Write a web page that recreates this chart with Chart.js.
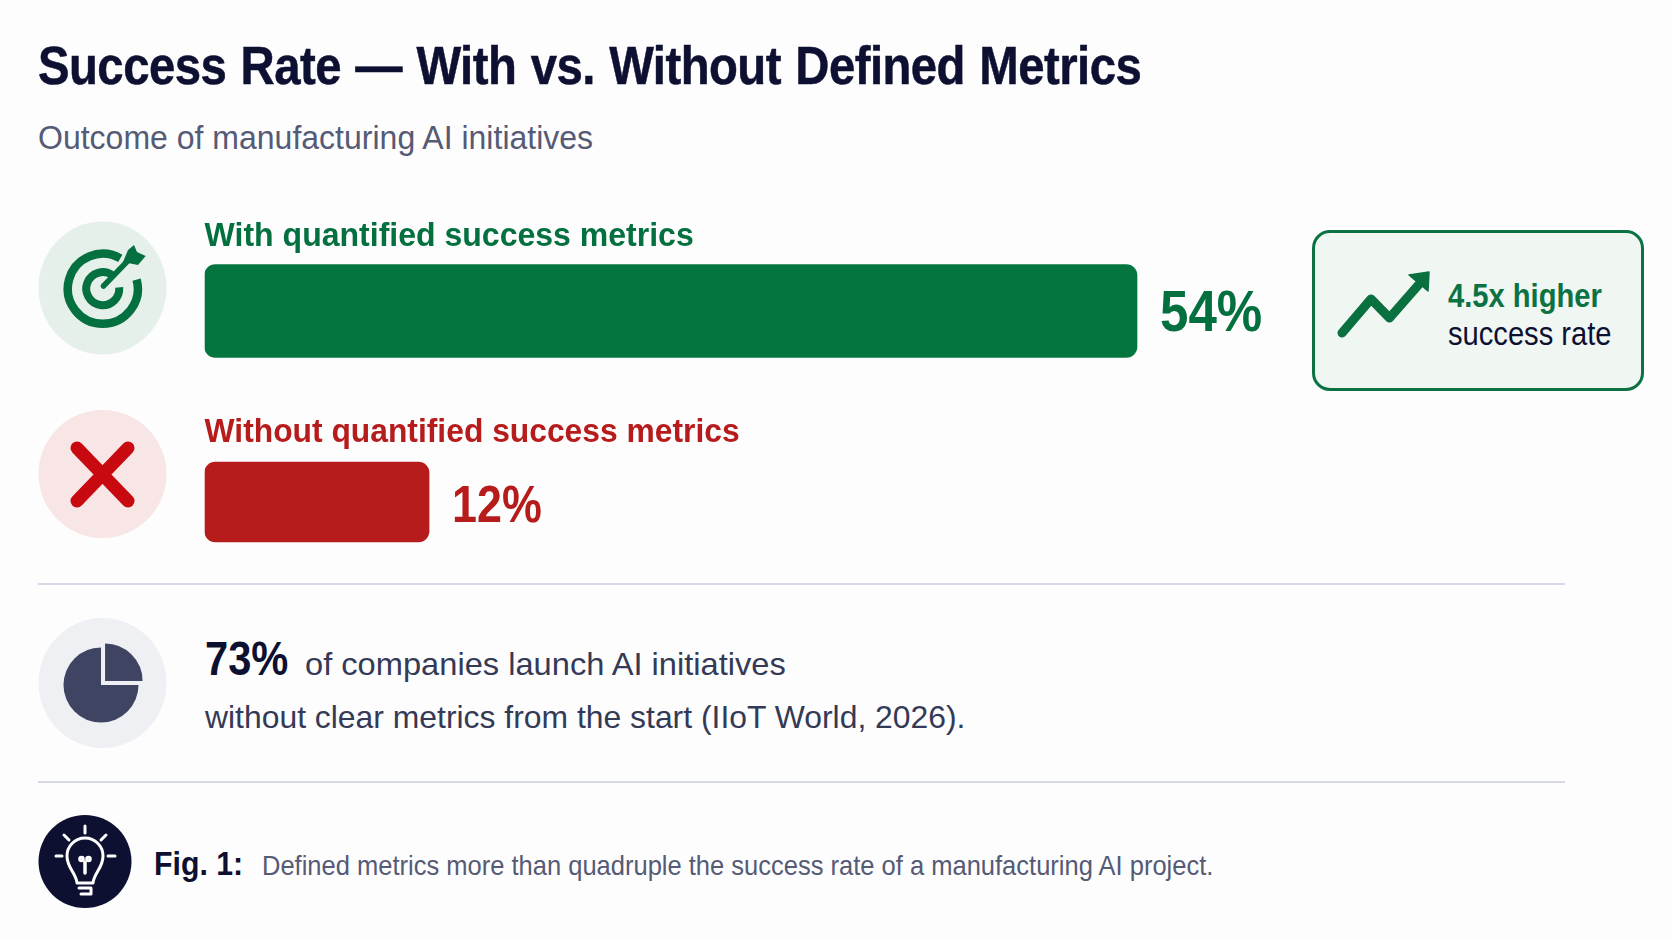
<!DOCTYPE html>
<html>
<head>
<meta charset="utf-8">
<script src="https://cdn.jsdelivr.net/npm/chart.js@4"></script>
<style>
  html, body { margin: 0; padding: 0; background: #fdfdfe; }
  body { position: relative; width: 1671px; height: 941px; overflow: hidden; font-family: "Liberation Sans", Arial, sans-serif; }
  canvas, svg, .t, .line, .box { position: absolute; }
  .t { white-space: pre; line-height: 1; transform-origin: left top; }
  .line { left: 38px; width: 1527px; height: 2px; background: #d6d9e6; }
  .box { left: 1312px; top: 230px; width: 326px; height: 155px; border: 3px solid #0c7243; border-radius: 18px; background: #f0f6f2; }
</style>
</head>
<body>
<div class="t" style="left:38px;top:37.5px;font-size:54px;font-weight:bold;color:#0d1030;-webkit-text-stroke:.5px #0d1030;letter-spacing:-.6px;word-spacing:2px;transform:scaleX(.8755)">Success Rate — With vs. Without Defined Metrics</div>
<div class="t" style="left:38px;top:121px;font-size:33px;color:#555a75;transform:scaleX(.97)">Outcome of manufacturing AI initiatives</div>

<svg style="left:0;top:0" width="1671" height="941">
  <ellipse cx="102.5" cy="288" rx="64" ry="66.5" fill="#e6f0ea"/>
  <ellipse cx="102.5" cy="474" rx="64" ry="64" fill="#f8e5e5"/>
  <ellipse cx="102.5" cy="683" rx="64" ry="65" fill="#eef0f3"/>
  <circle cx="85" cy="861.5" r="46.5" fill="#0d1030"/>

  <!-- target -->
  <g fill="none" stroke="#04703f">
    <path d="M120.3 258.4 A35 35 0 1 0 136.6 279.6" stroke-width="8.5"/>
    <path d="M112.3 275.2 A16.5 16.5 0 1 0 119.2 287.3" stroke-width="8"/>
    <path d="M103.5 286 L128.6 260" stroke-width="5.5" stroke-linecap="round"/>
  </g>
  <path d="M123 262 L128 250 L134 245 L137 252 L145.7 256 L138 265 Z" fill="#04703f"/>

  <!-- cross -->
  <path d="M77 448 L128 501 M128 448 L77 501" stroke="#c8090f" stroke-width="13" stroke-linecap="round" fill="none"/>

  <!-- bulb -->
  <g fill="none" stroke="#fff" stroke-width="3" stroke-linecap="round" stroke-linejoin="round">
    <path d="M85 826 V833 M64 835 L69 840 M106 835 L101 840 M56 856 H62 M108 856 H115"/>
    <path d="M77 883 C76 873 67 868 67 856 A18 18 0 0 1 103 856 C103 868 94 873 93 883 Z"/>
    <path d="M85 873 V862" stroke-width="3.5"/>
    <circle cx="81.5" cy="859" r="1.8"/>
    <circle cx="88.5" cy="859" r="1.8"/>
    <path d="M79 888 H91 V894 H81"/>
  </g>
</svg>

<div class="line" style="top:583px"></div>
<div class="line" style="top:781px"></div>

<div class="box"></div>
<svg style="left:0;top:0" width="1671" height="941">
  <path d="M1342 333 L1371 299 L1389.5 318 L1421 282" fill="none" stroke="#0a7040" stroke-width="9" stroke-linecap="round" stroke-linejoin="round"/>
  <path d="M1409 275 L1429 272 L1428 291 Z" fill="#0a7040" stroke="#0a7040" stroke-width="1.5" stroke-linejoin="round"/>
</svg>
<div class="t" style="left:1448px;top:279px;font-size:33px;font-weight:bold;color:#0c7243;transform:scaleX(.883)">4.5x higher</div>
<div class="t" style="left:1448px;top:317px;font-size:33px;color:#0d1030;transform:scaleX(.883)">success rate</div>

<div class="t" style="left:205px;top:633.5px;font-size:49px;font-weight:bold;color:#0d1030;transform:scaleX(.85)">73%</div>
<div class="t" style="left:305px;top:648px;font-size:32px;color:#343a55;transform:scaleX(1.02)">of companies launch AI initiatives</div>
<div class="t" style="left:205px;top:701px;font-size:32px;color:#343a55;transform:scaleX(.996)">without clear metrics from the start (IIoT World, 2026).</div>

<div class="t" style="left:154px;top:846px;font-size:34px;font-weight:bold;color:#0d1030;transform:scaleX(.89)">Fig. 1:</div>
<div class="t" style="left:262px;top:852px;font-size:28px;color:#555a75;transform:scaleX(.911)">Defined metrics more than quadruple the success rate of a manufacturing AI project.</div>

<canvas id="bars" width="1671" height="941" style="left:0;top:0"></canvas>
<canvas id="pie" width="98" height="98" style="left:52px;top:636px"></canvas>

<script>
const categories = ['With quantified success metrics', 'Without quantified success metrics'];
const valueLabels = ['54%', '12%'];
// bar lengths as drawn: the picture's red bar is a bit longer than 12 on the green bar's scale
const withMetrics = [54, null];
const withoutMetrics = [null, 13];
const pieLabels = ['Rest', 'Share'];
const pieValues = [25, 75];

const GREEN = '#04753f', RED = '#b71c1c';
const labelColors = ['#04703f', '#b71c1c'];
const valueSizes = [58, 51];
const labelGaps = [19, 20];
const labelSqueeze = [0.956, 0.949];

// canvas text squeezed horizontally, the reference type is narrow
function squeezed(ctx, text, x, y, sx) {
    ctx.save();
    ctx.translate(x, y);
    ctx.scale(sx, 1);
    ctx.fillText(text, 0, 0);
    ctx.restore();
}

const barText = {
    id: 'barText',
    afterDatasetsDraw(chart) {
        const ctx = chart.ctx;
        ctx.save();
        ctx.textBaseline = 'alphabetic';
        categories.forEach(function(cat, i) {
            const bar = chart.getDatasetMeta(i).data[i];
            const top = bar.y - bar.height / 2;
            ctx.fillStyle = labelColors[i];
            ctx.font = 'bold 33.5px "Liberation Sans"';
            squeezed(ctx, cat, bar.base, top - labelGaps[i], labelSqueeze[i]);
            ctx.font = 'bold ' + valueSizes[i] + 'px "Liberation Sans"';
            squeezed(ctx, valueLabels[i], bar.x + 23, bar.y + 19.5, 0.88);
        });
        ctx.restore();
    }
};

new Chart(document.getElementById('bars'), {
    type: 'bar',
    data: {
        labels: categories,
        datasets: [
            { data: withMetrics, backgroundColor: GREEN, barThickness: 93, borderRadius: 11, borderSkipped: false },
            { data: withoutMetrics, backgroundColor: RED, barThickness: 80, borderRadius: 11, borderSkipped: false }
        ]
    },
    options: {
        indexAxis: 'y',
        responsive: false,
        animation: false,
        devicePixelRatio: 1,
        layout: { padding: { left: 204.6, right: 430.4, top: 215.5, bottom: 343.5 } },
        plugins: { legend: { display: false }, tooltip: { enabled: false } },
        scales: {
            x: { display: false, stacked: true, min: 0, max: 60 },
            y: { display: false, stacked: true }
        }
    },
    plugins: [barText]
});

new Chart(document.getElementById('pie'), {
    type: 'pie',
    data: {
        labels: pieLabels,
        datasets: [{ data: pieValues, backgroundColor: '#3f4463', borderWidth: 0, offset: [23, 0] }]
    },
    options: {
        responsive: false,
        animation: false,
        devicePixelRatio: 1,
        plugins: { legend: { display: false }, tooltip: { enabled: false } }
    }
});
</script>
</body>
</html>
